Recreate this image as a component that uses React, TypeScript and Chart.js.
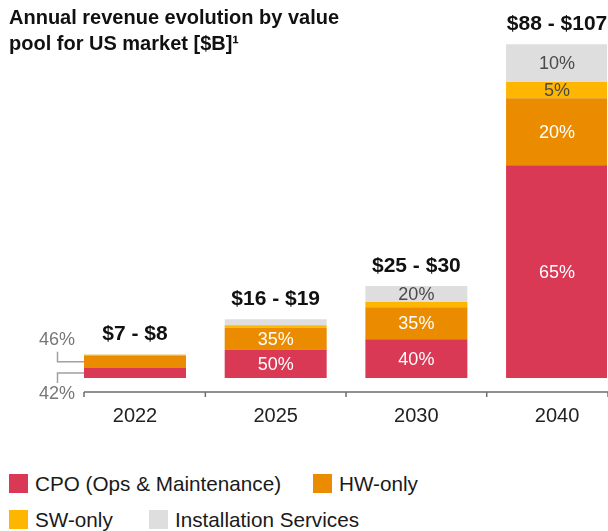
import React, { useEffect, useRef } from 'react';
import { Chart, registerables } from 'chart.js';

Chart.register(...registerables);

const FONT = '"Liberation Sans", Arial, Helvetica, sans-serif';

// ---- data ----
const years = ['2022', '2025', '2030', '2040'];
const rangeLabels = ['$7 - $8', '$16 - $19', '$25 - $30', '$88 - $107'];
const seriesNames = ['CPO (Ops & Maintenance)', 'HW-only', 'SW-only', 'Installation Services'];
const seriesColors = ['#D93954', '#EB8C00', '#FFB600', '#DEDEDE'];
const labelColors = ['#FFFFFF', '#FFFFFF', '#4A4A4A', '#4A4A4A'];

// revenue per value pool, $B
const cpoValues = [2.9, 8.3, 11.3, 62.2];
const hwValues = [3.7, 6.4, 9.4, 19.6];
const swValues = [0.2, 0.7, 1.5, 4.7];
const installValues = [0.15, 1.8, 4.7, 11.1];

// share labels printed inside the segments
const cpoShares = ['', '50%', '40%', '65%'];
const hwShares = ['', '35%', '35%', '20%'];
const swShares = ['', '', '', '5%'];
const installShares = ['', '', '20%', '10%'];

// call-out labels (drawn outside, left of the bar)
const cpoCallouts = ['42%', '', '', ''];
const hwCallouts = ['46%', '', '', ''];

const valueSets = [cpoValues, hwValues, swValues, installValues];
const shareSets = [cpoShares, hwShares, swShares, installShares];

const overlayPlugin = {
  id: 'overlay',
  afterDatasetsDraw(chart: any) {
    const ctx = chart.ctx as CanvasRenderingContext2D;
    const metas = chart.data.datasets.map((_: any, k: number) => chart.getDatasetMeta(k));
    const first = metas[0].data;
    const n = first.length;
    const bottom = chart.chartArea.bottom;
    ctx.save();

    // x axis line with ticks between bars
    const left = first[0].x - first[0].width / 2;
    const right = first[n - 1].x + first[n - 1].width / 2;
    ctx.strokeStyle = '#6E6E6E';
    ctx.lineWidth = 1.5;
    ctx.beginPath();
    ctx.moveTo(left, bottom);
    ctx.lineTo(right, bottom);
    const tickXs = [left];
    for (let i = 0; i < n - 1; i++) {
      const a = first[i].x + first[i].width / 2;
      const b = first[i + 1].x - first[i + 1].width / 2;
      tickXs.push((a + b) / 2);
    }
    tickXs.push(right);
    tickXs.forEach((x) => {
      ctx.moveTo(x, bottom);
      ctx.lineTo(x, bottom + 5);
    });
    ctx.stroke();

    // share labels inside segments
    ctx.font = `18px ${FONT}`;
    ctx.textAlign = 'center';
    ctx.textBaseline = 'middle';
    metas.forEach((meta: any, k: number) => {
      meta.data.forEach((el: any, i: number) => {
        const t = shareSets[k][i];
        if (!t) return;
        ctx.fillStyle = labelColors[k];
        ctx.fillText(t, el.x, (el.y + el.base) / 2 + 1);
      });
    });

    // range labels above stacks
    ctx.font = `bold 21px ${FONT}`;
    ctx.fillStyle = '#111111';
    ctx.textBaseline = 'alphabetic';
    for (let i = 0; i < n; i++) {
      const top = Math.min(...metas.map((m: any) => m.data[i].y));
      ctx.fillText(rangeLabels[i], first[i].x, top - 14);
    }

    // call-outs
    const callouts = [
      { k: 0, labels: cpoCallouts, dir: 1 },
      { k: 1, labels: hwCallouts, dir: -1 },
    ];
    ctx.font = `18px ${FONT}`;
    ctx.textAlign = 'right';
    ctx.textBaseline = 'middle';
    callouts.forEach(({ k, labels, dir }) => {
      metas[k].data.forEach((el: any, i: number) => {
        const t = labels[i];
        if (!t) return;
        const cy = (el.y + el.base) / 2;
        const lx = el.x - el.width / 2;
        const ex = lx - 26.5;
        ctx.strokeStyle = '#A0A0A0';
        ctx.lineWidth = 1.5;
        ctx.beginPath();
        ctx.moveTo(lx, cy);
        ctx.lineTo(ex, cy);
        ctx.lineTo(ex, cy + dir * 10);
        ctx.stroke();
        ctx.fillStyle = '#777777';
        ctx.fillText(t, lx - 9, cy + dir * 10 + dir * 11.5);
      });
    });

    ctx.restore();
  },
};

// legend item placement (row top, box left)
const legendSlots = [
  { top: 474, left: 9 },
  { top: 474, left: 313 },
  { top: 510, left: 9 },
  { top: 510, left: 149 },
];

export default function App() {
  const canvasRef = useRef<HTMLCanvasElement | null>(null);

  useEffect(() => {
    if (!canvasRef.current) return;
    const chart = new Chart(canvasRef.current, {
      type: 'bar',
      data: {
        datasets: seriesNames.map((name, k) => ({
          label: name,
          data: valueSets[k].map((v, i) => ({ x: i, y: v })),
          backgroundColor: seriesColors[k],
          borderWidth: 0,
          barPercentage: 0.725,
          categoryPercentage: 1,
        })),
      } as any,
      options: {
        responsive: false,
        animation: false,
        devicePixelRatio: 1,
        layout: { padding: { left: 84, right: 1, top: 0, bottom: 0 } },
        plugins: {
          legend: { display: false },
          title: { display: false },
          tooltip: { enabled: false },
        },
        scales: {
          x: {
            type: 'linear',
            stacked: true,
            min: -0.3625,
            max: 3.355,
            offset: false,
            grid: { display: false, drawTicks: false },
            border: { display: false },
            ticks: {
              stepSize: 1,
              includeBounds: false,
              autoSkip: false,
              maxRotation: 0,
              padding: 12,
              color: '#222222',
              font: { family: FONT, size: 20 },
              callback: (v: any) => (Number.isInteger(v) && years[v] ? years[v] : ''),
            },
            afterFit: (s: any) => {
              s.height = 40;
            },
          },
          y: {
            display: false,
            stacked: true,
            min: -4.1,
            max: 110.5,
          },
        },
      } as any,
      plugins: [overlayPlugin],
    });
    return () => chart.destroy();
  }, []);

  return (
    <div style={{ position: 'absolute', left: 0, top: 0, width: 608, height: 531, background: '#fff', fontFamily: FONT, overflow: 'hidden' }}>
      <canvas ref={canvasRef} width={608} height={432} style={{ position: 'absolute', left: 0, top: 0, display: 'block' }} />
      <div
        style={{
          position: 'absolute',
          left: 9,
          top: 4,
          fontWeight: 'bold',
          fontSize: 20,
          lineHeight: '26px',
          color: '#111',
        }}
      >
        Annual revenue evolution by value
        <br />
        pool for US market [$B]¹
      </div>
      {seriesNames.map((name, k) => (
        <div
          key={k}
          style={{
            position: 'absolute',
            left: legendSlots[k].left,
            top: legendSlots[k].top,
            height: 19,
            lineHeight: '19px',
            fontSize: 20.7,
            color: '#1A1A1A',
            display: 'flex',
            alignItems: 'center',
            whiteSpace: 'nowrap',
          }}
        >
          <div style={{ width: 19, height: 19, background: seriesColors[k], marginRight: 7 }} />
          <span>{name}</span>
        </div>
      ))}
    </div>
  );
}
